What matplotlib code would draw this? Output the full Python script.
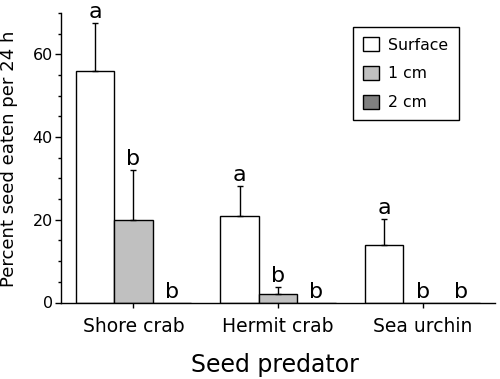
import matplotlib
matplotlib.use('Agg')
import matplotlib.pyplot as plt
from matplotlib.ticker import MultipleLocator
import numpy as np

# data
predators = ['Shore crab', 'Hermit crab', 'Sea urchin']
depths = ['Surface', '1 cm', '2 cm']
surface = [56.0, 20.8, 14.0]
cm1 = [20.0, 2.0, 0.0]
cm2 = [0.0, 0.0, 0.0]
surface_err = [11.7, 7.4, 6.2]
cm1_err = [12.0, 1.7, 0.0]
cm2_err = [0.0, 0.0, 0.0]
surface_lett = ['a', 'a', 'a']
cm1_lett = ['b', 'b', 'b']
cm2_lett = ['b', 'b', 'b']

colors = ['white', '#c0c0c0', '#808080']
plt.rcParams['font.family'] = 'DejaVu Sans'

fig = plt.figure(figsize=(5, 3.79), dpi=100)
ax = fig.add_axes([61/500, 1 - 302.5/379, 434/500, 289.5/379])

x = np.arange(len(predators))
w = 0.265
series = [(surface, surface_err, surface_lett),
          (cm1, cm1_err, cm1_lett),
          (cm2, cm2_err, cm2_lett)]

for k, (vals, errs, letts) in enumerate(series):
    xs = x + (k - 1) * w
    ax.bar(xs, vals, w, color=colors[k], edgecolor='black', linewidth=1,
           label=depths[k], zorder=2)
    for xi, v, e, l in zip(xs, vals, errs, letts):
        if e > 0:
            ax.errorbar(xi, v, yerr=[[0], [e]], fmt='none', ecolor='black',
                        elinewidth=1, capsize=2.5, capthick=1, zorder=3)
        ax.annotate(l, (xi, v + e), xytext=(0, 3.6), textcoords='offset points',
                    ha='center', va='baseline', fontsize=16)

ax.set_xlim(-0.5, 2.5)
ax.set_ylim(0, 70)
ax.set_xticks(x)
ax.set_xticklabels(predators, fontsize=13.5)
ax.yaxis.set_major_locator(MultipleLocator(20))
ax.yaxis.set_minor_locator(MultipleLocator(5))
ax.tick_params(axis='y', which='major', length=4.3, width=1, labelsize=11.5, pad=1.5)
ax.tick_params(axis='y', which='minor', length=2.5, width=1)
ax.tick_params(axis='x', length=3.6, width=1, pad=7)
for s in ['top', 'right']:
    ax.spines[s].set_visible(False)
for s in ['left', 'bottom']:
    ax.spines[s].set_linewidth(1)

fig.text(274.5/500, 1 - 372/379, 'Seed predator', ha='center', va='baseline', fontsize=17)
fig.text(9/500, 1 - 158.5/379, 'Percent seed eaten per 24 h', rotation=90,
         ha='center', va='center', fontsize=13.1)

leg = ax.legend(loc='upper left', bbox_to_anchor=(353/500, 1 - 27/379),
                bbox_transform=fig.transFigure, borderaxespad=0, fancybox=False,
                edgecolor='black', fontsize=11.3, handlelength=1.0, handleheight=1.0,
                labelspacing=0.85, handletextpad=0.6, borderpad=0.65, framealpha=1)
leg.get_frame().set_linewidth(1)

fig.savefig('out.png', dpi=100)
